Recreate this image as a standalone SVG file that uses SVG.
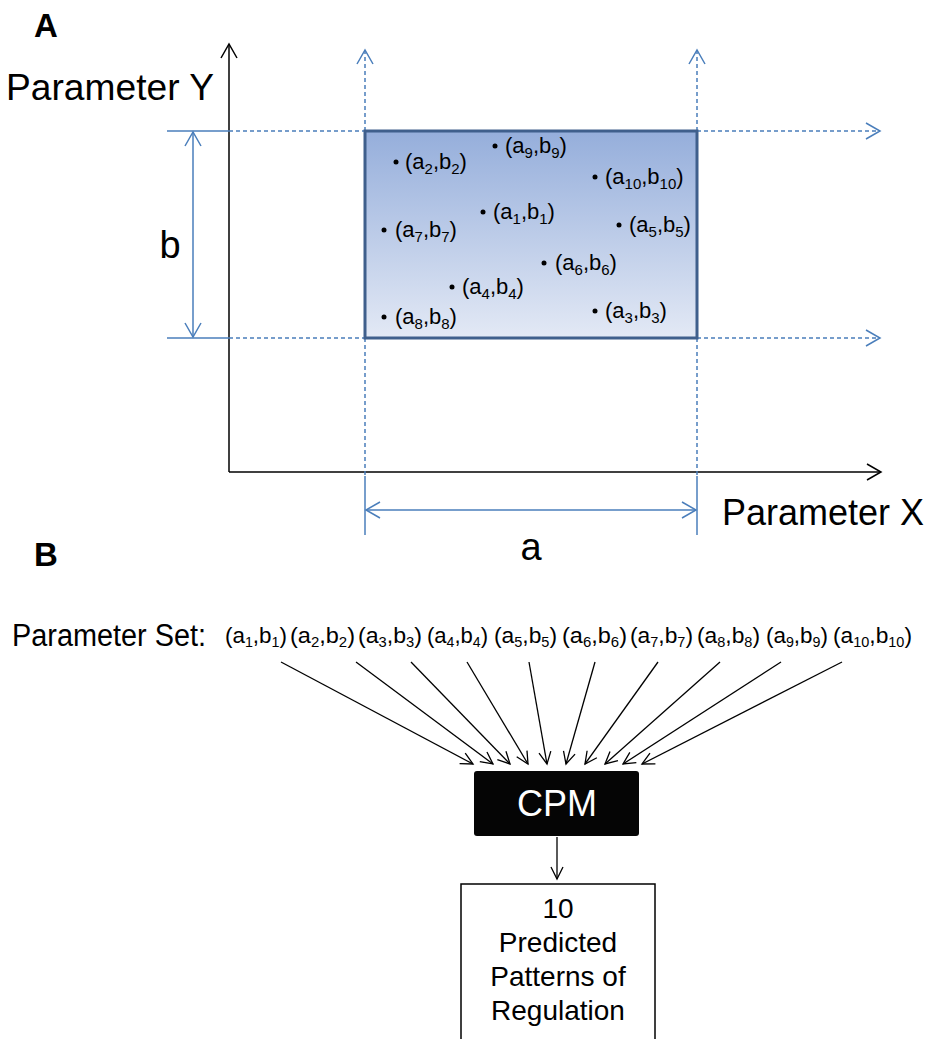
<svg xmlns="http://www.w3.org/2000/svg" width="930" height="1039" viewBox="0 0 930 1039">
<style>
text{font-family:"Liberation Sans",Arial,sans-serif;fill:#000}
.big{font-size:38px}
.axl{font-size:36px}
.lbl{font-size:33px;font-weight:bold}
.pt{font-size:22px}
.sub{font-size:15px}
.ps{font-size:22px}
.psub{font-size:14px}
.blue{stroke:#4a7ebb;stroke-width:1.5;fill:none}
.dash{stroke:#4a7ebb;stroke-width:1.5;fill:none;stroke-dasharray:4 3}
.axis{stroke:#000;stroke-width:1.5;fill:none}
.fan{stroke:#000;stroke-width:1.3;fill:none}
</style>
<defs>
<linearGradient id="g" x1="0" y1="0" x2="0" y2="1">
<stop offset="0" stop-color="#95aedb"/>
<stop offset="1" stop-color="#e3e9f5"/>
</linearGradient>
<marker id="ak" viewBox="-16 -10 18 20" refX="0" refY="0" markerWidth="18" markerHeight="20" markerUnits="userSpaceOnUse" orient="auto-start-reverse">
<path d="M-14,-8 L0,0 L-14,8" fill="none" stroke="#000" stroke-width="1.5"/>
</marker>
<marker id="ab" viewBox="-16 -10 18 20" refX="0" refY="0" markerWidth="18" markerHeight="20" markerUnits="userSpaceOnUse" orient="auto-start-reverse">
<path d="M-14,-8 L0,0 L-14,8" fill="none" stroke="#4a7ebb" stroke-width="1.5"/>
</marker>
<marker id="af" viewBox="-14 -8 16 16" refX="0" refY="0" markerWidth="16" markerHeight="16" markerUnits="userSpaceOnUse" orient="auto">
<path d="M-12,-6 L0,0 L-12,6" fill="none" stroke="#000" stroke-width="1.3"/>
</marker>
</defs>

<g id="panel-labels">
<text class="lbl" x="34" y="37">A</text>
<text class="lbl" x="34" y="566">B</text>
</g>

<g id="axes">
<line class="axis" x1="229" y1="472" x2="229" y2="44" marker-end="url(#ak)"/>
<line class="axis" x1="229" y1="472" x2="881" y2="472" marker-end="url(#ak)"/>
<text class="axl" x="6" y="100" textLength="208" lengthAdjust="spacingAndGlyphs">Parameter Y</text>
<text class="axl" x="722" y="525" textLength="202" lengthAdjust="spacingAndGlyphs">Parameter X</text>
</g>

<g id="guides">
<line class="blue" x1="167" y1="131" x2="229" y2="131"/>
<line class="blue" x1="167" y1="338" x2="229" y2="338"/>
<line class="dash" x1="229" y1="131" x2="365" y2="131"/>
<line class="dash" x1="229" y1="338" x2="365" y2="338"/>
<line class="dash" x1="697" y1="131" x2="880" y2="131" marker-end="url(#ab)"/>
<line class="dash" x1="697" y1="338" x2="880" y2="338" marker-end="url(#ab)"/>
<line class="dash" x1="365" y1="131" x2="365" y2="50" marker-end="url(#ab)"/>
<line class="dash" x1="697" y1="131" x2="697" y2="50" marker-end="url(#ab)"/>
<line class="dash" x1="365" y1="338" x2="365" y2="476"/>
<line class="dash" x1="697" y1="338" x2="697" y2="476"/>
<line class="blue" x1="365" y1="476" x2="365" y2="535"/>
<line class="blue" x1="697" y1="476" x2="697" y2="535"/>
<line class="blue" x1="193" y1="132" x2="193" y2="337" marker-start="url(#ab)" marker-end="url(#ab)"/>
<line class="blue" x1="366" y1="510" x2="696" y2="510" marker-start="url(#ab)" marker-end="url(#ab)"/>
<text class="big" x="170" y="258" text-anchor="middle">b</text>
<text class="big" x="531" y="560" text-anchor="middle">a</text>
</g>

<g id="region">
<rect x="365" y="131" width="332" height="207" fill="url(#g)" stroke="#3f5f8c" stroke-width="3"/>
<g class="pts">
<circle cx="396" cy="162" r="2.5"/><text class="pt" x="405" y="169">(a<tspan class="sub" dy="5">2</tspan><tspan dy="-5">,b</tspan><tspan class="sub" dy="5">2</tspan><tspan dy="-5">)</tspan></text>
<circle cx="495" cy="146" r="2.5"/><text class="pt" x="505" y="153">(a<tspan class="sub" dy="5">9</tspan><tspan dy="-5">,b</tspan><tspan class="sub" dy="5">9</tspan><tspan dy="-5">)</tspan></text>
<circle cx="595" cy="177" r="2.5"/><text class="pt" x="605" y="184">(a<tspan class="sub" dy="5">10</tspan><tspan dy="-5">,b</tspan><tspan class="sub" dy="5">10</tspan><tspan dy="-5">)</tspan></text>
<circle cx="483" cy="212" r="2.5"/><text class="pt" x="493" y="219">(a<tspan class="sub" dy="5">1</tspan><tspan dy="-5">,b</tspan><tspan class="sub" dy="5">1</tspan><tspan dy="-5">)</tspan></text>
<circle cx="384" cy="230" r="2.5"/><text class="pt" x="395" y="237">(a<tspan class="sub" dy="5">7</tspan><tspan dy="-5">,b</tspan><tspan class="sub" dy="5">7</tspan><tspan dy="-5">)</tspan></text>
<circle cx="619" cy="225" r="2.5"/><text class="pt" x="629" y="232">(a<tspan class="sub" dy="5">5</tspan><tspan dy="-5">,b</tspan><tspan class="sub" dy="5">5</tspan><tspan dy="-5">)</tspan></text>
<circle cx="544" cy="263" r="2.5"/><text class="pt" x="555" y="270">(a<tspan class="sub" dy="5">6</tspan><tspan dy="-5">,b</tspan><tspan class="sub" dy="5">6</tspan><tspan dy="-5">)</tspan></text>
<circle cx="452" cy="287" r="2.5"/><text class="pt" x="462" y="294">(a<tspan class="sub" dy="5">4</tspan><tspan dy="-5">,b</tspan><tspan class="sub" dy="5">4</tspan><tspan dy="-5">)</tspan></text>
<circle cx="384" cy="317" r="2.5"/><text class="pt" x="395" y="324">(a<tspan class="sub" dy="5">8</tspan><tspan dy="-5">,b</tspan><tspan class="sub" dy="5">8</tspan><tspan dy="-5">)</tspan></text>
<circle cx="595" cy="311" r="2.5"/><text class="pt" x="605" y="318">(a<tspan class="sub" dy="5">3</tspan><tspan dy="-5">,b</tspan><tspan class="sub" dy="5">3</tspan><tspan dy="-5">)</tspan></text>
</g>
</g>

<g id="parameter-set">
<text x="12" y="646" font-size="31" textLength="194" lengthAdjust="spacingAndGlyphs">Parameter Set:</text>
<text class="ps" x="225" y="643" textLength="62" lengthAdjust="spacingAndGlyphs">(a<tspan class="psub" dy="4">1</tspan><tspan dy="-4">,b</tspan><tspan class="psub" dy="4">1</tspan><tspan dy="-4">)</tspan></text>
<text class="ps" x="290" y="643" textLength="65" lengthAdjust="spacingAndGlyphs">(a<tspan class="psub" dy="4">2</tspan><tspan dy="-4">,b</tspan><tspan class="psub" dy="4">2</tspan><tspan dy="-4">)</tspan></text>
<text class="ps" x="358" y="643" textLength="64" lengthAdjust="spacingAndGlyphs">(a<tspan class="psub" dy="4">3</tspan><tspan dy="-4">,b</tspan><tspan class="psub" dy="4">3</tspan><tspan dy="-4">)</tspan></text>
<text class="ps" x="427" y="643" textLength="61" lengthAdjust="spacingAndGlyphs">(a<tspan class="psub" dy="4">4</tspan><tspan dy="-4">,b</tspan><tspan class="psub" dy="4">4</tspan><tspan dy="-4">)</tspan></text>
<text class="ps" x="494" y="643" textLength="63" lengthAdjust="spacingAndGlyphs">(a<tspan class="psub" dy="4">5</tspan><tspan dy="-4">,b</tspan><tspan class="psub" dy="4">5</tspan><tspan dy="-4">)</tspan></text>
<text class="ps" x="562" y="643" textLength="65" lengthAdjust="spacingAndGlyphs">(a<tspan class="psub" dy="4">6</tspan><tspan dy="-4">,b</tspan><tspan class="psub" dy="4">6</tspan><tspan dy="-4">)</tspan></text>
<text class="ps" x="630" y="643" textLength="63" lengthAdjust="spacingAndGlyphs">(a<tspan class="psub" dy="4">7</tspan><tspan dy="-4">,b</tspan><tspan class="psub" dy="4">7</tspan><tspan dy="-4">)</tspan></text>
<text class="ps" x="697" y="643" textLength="63" lengthAdjust="spacingAndGlyphs">(a<tspan class="psub" dy="4">8</tspan><tspan dy="-4">,b</tspan><tspan class="psub" dy="4">8</tspan><tspan dy="-4">)</tspan></text>
<text class="ps" x="766" y="643" textLength="62" lengthAdjust="spacingAndGlyphs">(a<tspan class="psub" dy="4">9</tspan><tspan dy="-4">,b</tspan><tspan class="psub" dy="4">9</tspan><tspan dy="-4">)</tspan></text>
<text class="ps" x="833" y="643" textLength="79" lengthAdjust="spacingAndGlyphs">(a<tspan class="psub" dy="4">10</tspan><tspan dy="-4">,b</tspan><tspan class="psub" dy="4">10</tspan><tspan dy="-4">)</tspan></text>
</g>

<g id="connectors">
<line class="fan" x1="281" y1="662" x2="473" y2="764" marker-end="url(#af)"/>
<line class="fan" x1="356" y1="662" x2="493" y2="764" marker-end="url(#af)"/>
<line class="fan" x1="411" y1="662" x2="510" y2="764" marker-end="url(#af)"/>
<line class="fan" x1="467" y1="662" x2="528" y2="764" marker-end="url(#af)"/>
<line class="fan" x1="529" y1="662" x2="547" y2="764" marker-end="url(#af)"/>
<line class="fan" x1="595" y1="662" x2="566" y2="764" marker-end="url(#af)"/>
<line class="fan" x1="658" y1="662" x2="585" y2="764" marker-end="url(#af)"/>
<line class="fan" x1="720" y1="662" x2="605" y2="764" marker-end="url(#af)"/>
<line class="fan" x1="781" y1="662" x2="623" y2="764" marker-end="url(#af)"/>
<line class="fan" x1="842" y1="662" x2="642" y2="764" marker-end="url(#af)"/>
<line class="fan" x1="557" y1="837" x2="557" y2="879" marker-end="url(#af)"/>
</g>

<g id="cpm">
<rect x="474" y="771" width="165" height="65" rx="3" fill="#050505"/>
<text x="557" y="816" font-size="36" text-anchor="middle" style="fill:#fff">CPM</text>
</g>

<g id="output">
<rect x="461" y="884" width="194" height="170" fill="#fff" stroke="#000" stroke-width="1.5"/>
<text x="558" y="918" font-size="28" text-anchor="middle">10</text>
<text x="558" y="952" font-size="28" text-anchor="middle">Predicted</text>
<text x="558" y="986" font-size="28" text-anchor="middle">Patterns of</text>
<text x="558" y="1020" font-size="28" text-anchor="middle">Regulation</text>
</g>
</svg>
